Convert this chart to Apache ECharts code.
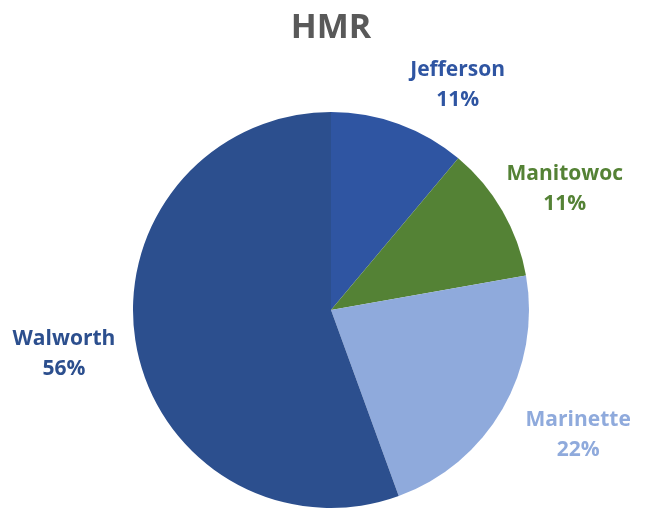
<!DOCTYPE html>
<html><head><meta charset="utf-8">
<script src="https://cdn.jsdelivr.net/npm/echarts@6/dist/echarts.min.js"></script>
<style>html,body{margin:0;padding:0;background:#fff}#c{width:648px;height:510px}</style>
</head><body><div id="c"></div>
<script>
const title = 'HMR';
const categories = ['Jefferson', 'Manitowoc', 'Marinette', 'Walworth'];
const values = [1, 1, 2, 5];
const colors = ['#2F55A2', '#548235', '#8FAADC', '#2C4F8E'];

// per-label nudges (layout only)
const labelNudge = [[-1, -18], [-20, -11], [-1, 15], [6, 6]];

const chart = echarts.init(document.getElementById('c'));
chart.setOption({
  animation: false,
  title: {
    text: title, left: 326, textAlign: 'center', top: 6,
    textStyle: { fontFamily: 'Open Sans', fontWeight: 'bold', fontSize: 34, color: '#595959' }
  },
  series: [{
    type: 'pie',
    center: [331, 310],
    radius: 198,
    startAngle: 90,
    clockwise: true,
    data: categories.map((c, i) => ({
      name: c, value: values[i],
      itemStyle: { color: colors[i] },
      label: { color: colors[i] }
    })),
    label: {
      show: true, position: 'outside', overflow: 'none', edgeDistance: 0,
      formatter: p => p.name + '\n' + Math.round(p.percent) + '%',
      fontFamily: 'Open Sans', fontWeight: 'bold', fontSize: 21, lineHeight: 30
    },
    labelLine: { show: false, length: 22, length2: 0 },
    labelLayout: function (p) {
      const r = p.labelRect;
      const n = labelNudge[p.dataIndex];
      return { x: r.x + r.width / 2 + n[0], y: r.y + r.height / 2 + n[1], align: 'center', verticalAlign: 'middle' };
    }
  }]
});
</script></body></html>
